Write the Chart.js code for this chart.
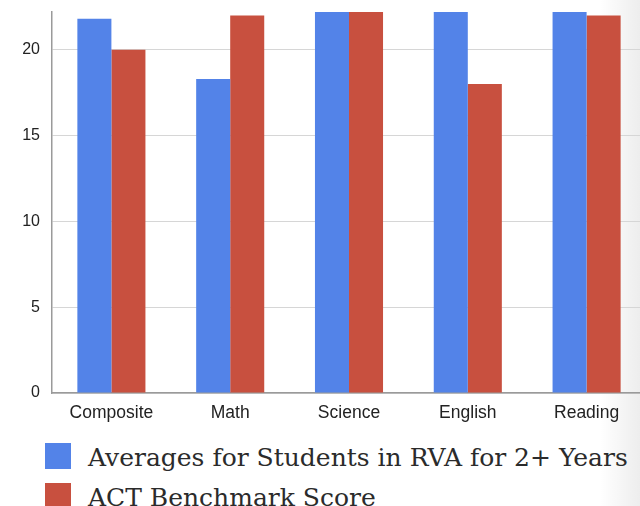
<!DOCTYPE html>
<html>
<head>
<meta charset="utf-8">
<script src="https://cdn.jsdelivr.net/npm/chart.js@4/dist/chart.umd.min.js"></script>
<style>
  html, body { margin: 0; padding: 0; background: #fff; overflow: hidden; width: 640px; height: 506px; }
  #shade { position: absolute; right: 0; top: 0; width: 40px; height: 506px;
           background: linear-gradient(to right, rgba(0,0,0,0), rgba(0,0,0,0.07)); }
  #wrap { position: absolute; left: 0; top: 0; width: 660px; height: 430px; }
  #legend { position: absolute; left: 45px; top: 443px; font-family: "DejaVu Serif", serif; font-size: 25px; color: #2b2b2b; }
  .item { display: flex; align-items: center; height: 40px; white-space: nowrap; }
  .sw { width: 26px; height: 26px; margin-right: 17px; flex: none; align-self: flex-start; }
  .tx { margin-top: -12px; }
</style>
</head>
<body>
<div id="shade"></div>
<div id="wrap"><canvas id="myChart"></canvas></div>
<div id="legend"></div>
<script>
// ── data ──
const categories  = ['Composite', 'Math', 'Science', 'English', 'Reading'];
const rvaAverages = [21.8, 18.3, 24, 23, 23];   // bars above the top are cut off in the picture
const actBench    = [20, 22, 23, 18, 22];
const yTicks      = [0, 5, 10, 15, 20];

const BLUE = '#5383e8';
const RED  = '#c8503f';

const datasets = [
  { label: 'Averages for Students in RVA for 2+ Years', data: rvaAverages, backgroundColor: BLUE },
  { label: 'ACT Benchmark Score', data: actBench, backgroundColor: RED }
];

const ctx = document.getElementById('myChart').getContext('2d');
const chart = new Chart(ctx, {
  type: 'bar',
  data: { labels: categories, datasets: datasets.map(d => ({ ...d, borderWidth: 0, categoryPercentage: 0.573, barPercentage: 1 })) },
  options: {
    responsive: true,
    maintainAspectRatio: false,
    animation: false,
    layout: { padding: { top: 12, right: 14, left: 0, bottom: 0 } },
    plugins: { legend: { display: false }, tooltip: { enabled: false } },
    scales: {
      x: {
        grid: { display: false, drawTicks: false },
        border: { color: '#9a9a9a', width: 1.5 },
        ticks: { color: '#222', font: { family: 'Liberation Sans', size: 17.5 }, padding: 10 },
        afterFit: s => { s.height = 37; s.paddingLeft = 0; s.paddingRight = 0; }
      },
      y: {
        min: 0, max: 22.2,
        afterBuildTicks: s => { s.ticks = yTicks.map(v => ({ value: v })); },
        grid: { color: '#d6d6d6', drawTicks: false },
        border: { color: '#9a9a9a', width: 1.5 },
        ticks: { color: '#222', font: { family: 'Liberation Sans', size: 16 }, padding: 12 },
        afterFit: s => { s.width = 52; s.paddingTop = 0; s.paddingBottom = 0; }
      }
    }
  }
});

// legend built from the datasets
const legend = document.getElementById('legend');
datasets.forEach(d => {
  const it = document.createElement('div');
  it.className = 'item';
  it.innerHTML = `<span class="sw" style="background:${d.backgroundColor}"></span><span class="tx">${d.label}</span>`;
  legend.appendChild(it);
});
</script>
</body>
</html>
